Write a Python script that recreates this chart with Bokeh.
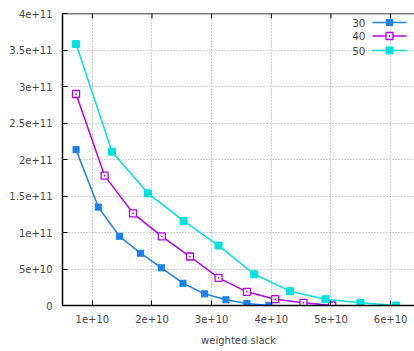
from bokeh.plotting import figure
from bokeh.embed import file_html
from bokeh.resources import INLINE
from bokeh.models import FixedTicker, Range1d, Span
from bokeh.core.properties import value

# ---- data ----
x30 = [0.727e10, 1.10e10, 1.456e10, 1.809e10, 2.156e10, 2.519e10, 2.881e10, 3.24e10, 3.591e10, 3.96e10]
y30 = [2.135e11, 1.348e11, 0.948e11, 0.716e11, 0.516e11, 0.305e11, 0.160e11, 0.078e11, 0.027e11, 0.0]

x40 = [0.727e10, 1.206e10, 1.682e10, 2.164e10, 2.637e10, 3.116e10, 3.591e10, 4.065e10, 4.539e10, 5.02e10]
y40 = [2.897e11, 1.779e11, 1.263e11, 0.947e11, 0.671e11, 0.379e11, 0.187e11, 0.086e11, 0.037e11, 0.0]

x50 = [0.727e10, 1.33e10, 1.933e10, 2.529e10, 3.116e10, 3.714e10, 4.312e10, 4.908e10, 5.494e10, 6.092e10]
y50 = [3.581e11, 2.107e11, 1.537e11, 1.159e11, 0.821e11, 0.428e11, 0.196e11, 0.086e11, 0.037e11, 0.0]

series_labels = ["30", "40", "50"]
x_ticks = [1e10, 2e10, 3e10, 4e10, 5e10, 6e10]
x_tick_labels = ["1e+10", "2e+10", "3e+10", "4e+10", "5e+10", "6e+10"]
y_ticks = [0, 5e10, 1e11, 1.5e11, 2e11, 2.5e11, 3e11, 3.5e11, 4e11]
y_tick_labels = ["0", "5e+10", "1e+11", "1.5e+11", "2e+11", "2.5e+11", "3e+11", "3.5e+11", "4e+11"]
x_title = "weighted slack"

# ---- styles ----
C30, C40, C50 = "#1a82f0", "#b400f0", "#00e2e2"
FONT = "DejaVu Sans"
TXT = "#484848"
FS = "10px"

X0, X1 = 0.5e10, 6.4e10
Y0, Y1 = 0.0, 4e11

p = figure(width=414, height=351, output_backend="svg", toolbar_location=None,
           x_range=Range1d(X0, X1), y_range=Range1d(Y0, Y1),
           min_border_left=62, min_border_right=0, min_border_top=13, min_border_bottom=46)
p.outline_line_color = None
p.background_fill_color = "white"
p.border_fill_color = "white"

for ax in (p.xaxis[0], p.yaxis[0]):
    ax.axis_line_color = "black"
    ax.axis_line_width = 1.5
    ax.major_tick_line_color = "black"
    ax.major_tick_in = 5
    ax.major_tick_out = 0
    ax.minor_tick_line_color = None
    ax.major_label_text_font = FONT
    ax.major_label_text_font_size = FS
    ax.major_label_text_color = TXT

p.xaxis[0].ticker = FixedTicker(ticks=x_ticks)
p.xaxis[0].major_label_overrides = dict(zip(x_ticks, x_tick_labels))
p.xaxis[0].major_label_standoff = 9
p.xaxis[0].axis_label = x_title
p.xaxis[0].axis_label_text_font = FONT
p.xaxis[0].axis_label_text_font_size = FS
p.xaxis[0].axis_label_text_font_style = "normal"
p.xaxis[0].axis_label_text_color = TXT
p.xaxis[0].axis_label_standoff = 9

p.yaxis[0].ticker = FixedTicker(ticks=y_ticks)
p.yaxis[0].major_label_overrides = dict(zip(y_ticks, y_tick_labels))
p.yaxis[0].major_label_standoff = 10

# top border with inward ticks (gnuplot mirror)
p.add_layout(Span(location=Y1, dimension="width", line_color="black", line_width=1.5))
frame_w, frame_h = 352.0, 292.0
xspan = X1 - X0
yspan = Y1 - Y0
tick_len = 5 / frame_h * yspan
p.segment(x0=x_ticks, y0=[Y1] * len(x_ticks), x1=x_ticks, y1=[Y1 - tick_len] * len(x_ticks),
          line_color="black", line_width=1)

p.xgrid.ticker = FixedTicker(ticks=x_ticks)
p.ygrid.ticker = FixedTicker(ticks=y_ticks)
for g in (p.xgrid[0], p.ygrid[0]):
    g.grid_line_color = "#a0a0a0"
    g.grid_line_dash = "1 2"
    g.grid_line_width = 1

LW = 1.5


def draw_marker(xs, ys, kind, color):
    if kind == "star":
        p.scatter(xs, ys, marker="square", size=6, fill_color=color, line_color=color)
        p.scatter(xs, ys, marker="x", size=9, line_color=color, line_width=1.5)
    elif kind == "open":
        p.scatter(xs, ys, marker="square_dot", size=7, fill_color="white",
                  line_color=color, line_width=1.3)
    else:
        p.scatter(xs, ys, marker="square", size=7, fill_color=color, line_color=color)


series = [(x30, y30, C30, "star"), (x40, y40, C40, "open"), (x50, y50, C50, "filled")]
for xs, ys, c, kind in series:
    p.line(xs, ys, line_color=c, line_width=LW)
    draw_marker(xs, ys, kind, c)

# ---- legend (gnuplot style: label right-aligned, sample on the right) ----
lab_x = X0 + (365 - 62) / frame_w * xspan
l0 = X0 + (372 - 62) / frame_w * xspan
l1 = X0 + (406 - 62) / frame_w * xspan
lm = X0 + (389 - 62) / frame_w * xspan
rows_px = [22, 35.5, 50]
for (xs, ys, c, kind), lab, rp in zip(series, series_labels, rows_px):
    yy = Y1 - (rp - 13) / frame_h * yspan
    p.line([l0, l1], [yy, yy], line_color=c, line_width=LW)
    draw_marker([lm], [yy], kind, c)
    p.text([lab_x], [yy], text=[lab], text_align="right", text_baseline="middle",
           text_font=value(FONT), text_font_size="10.5px", text_color=TXT)

open("out.html", "w").write(file_html(p, INLINE))
